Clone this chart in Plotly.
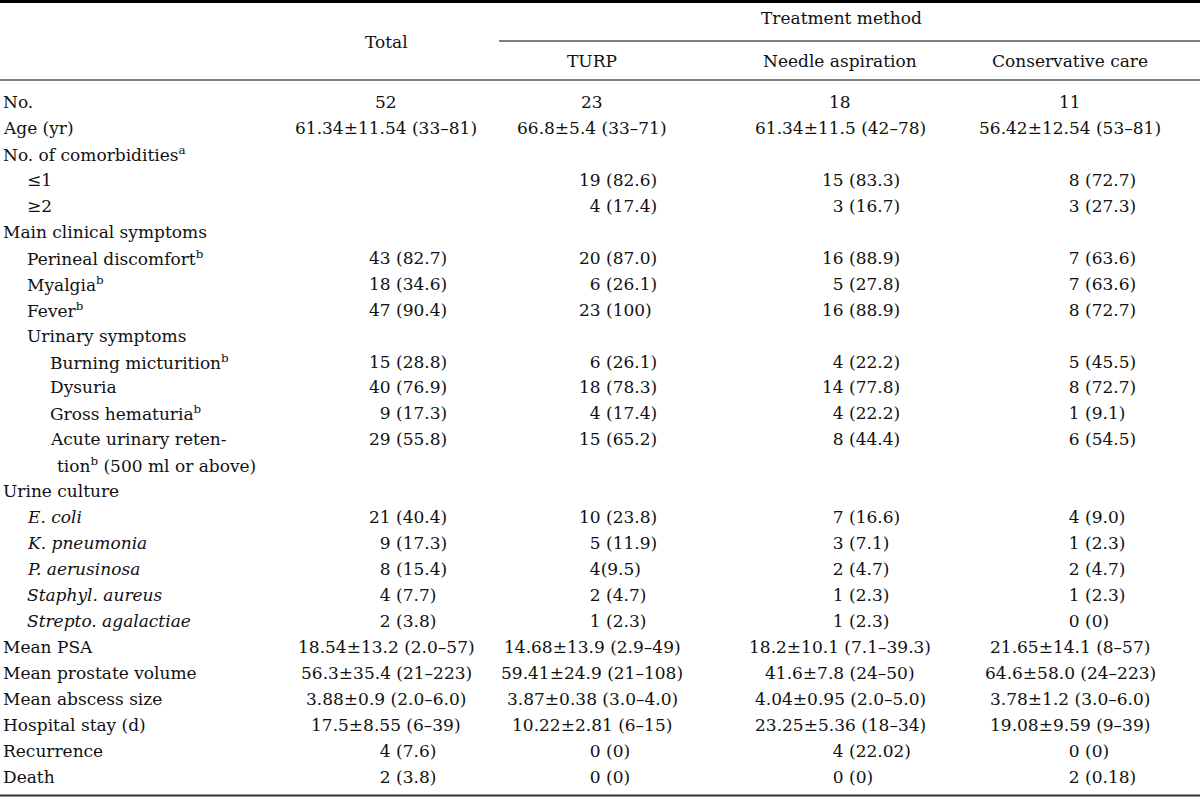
import re
import plotly.graph_objects as go

# ---------------- data ----------------
row_labels = [
    "No.", "Age (yr)", "No. of comorbidities<sup>a</sup>", "≤1", "≥2",
    "Main clinical symptoms", "Perineal discomfort<sup>b</sup>", "Myalgia<sup>b</sup>",
    "Fever<sup>b</sup>", "Urinary symptoms", "Burning micturition<sup>b</sup>", "Dysuria",
    "Gross hematuria<sup>b</sup>", "Acute urinary reten-", "tion<sup>b</sup> (500 ml or above)",
    "Urine culture", "<i>E. coli</i>", "<i>K. pneumonia</i>", "<i>P. aerusinosa</i>",
    "<i>Staphyl. aureus</i>", "<i>Strepto. agalactiae</i>", "Mean PSA",
    "Mean prostate volume", "Mean abscess size", "Hospital stay (d)", "Recurrence", "Death",
]
row_level = [0, 0, 0, 1, 1, 0, 1, 1, 1, 1, 2, 2, 2, 2, 3, 0, 1, 1, 1, 1, 1, 0, 0, 0, 0, 0, 0]

col_headers = ["Total", "TURP", "Needle aspiration", "Conservative care"]
group_header = "Treatment method"

total = ["52", "61.34±11.54 (33–81)", "", "", "", "", "43 (82.7)", "18 (34.6)", "47 (90.4)", "",
         "15 (28.8)", "40 (76.9)", "9 (17.3)", "29 (55.8)", "", "", "21 (40.4)", "9 (17.3)",
         "8 (15.4)", "4 (7.7)", "2 (3.8)", "18.54±13.2 (2.0–57)", "56.3±35.4 (21–223)",
         "3.88±0.9 (2.0–6.0)", "17.5±8.55 (6–39)", "4 (7.6)", "2 (3.8)"]
turp = ["23", "66.8±5.4 (33–71)", "", "19 (82.6)", "4 (17.4)", "", "20 (87.0)", "6 (26.1)",
        "23 (100)", "", "6 (26.1)", "18 (78.3)", "4 (17.4)", "15 (65.2)", "", "", "10 (23.8)",
        "5 (11.9)", "4(9.5)", "2 (4.7)", "1 (2.3)", "14.68±13.9 (2.9–49)", "59.41±24.9 (21–108)",
        "3.87±0.38 (3.0–4.0)", "10.22±2.81 (6–15)", "0 (0)", "0 (0)"]
needle = ["18", "61.34±11.5 (42–78)", "", "15 (83.3)", "3 (16.7)", "", "16 (88.9)", "5 (27.8)",
          "16 (88.9)", "", "4 (22.2)", "14 (77.8)", "4 (22.2)", "8 (44.4)", "", "", "7 (16.6)",
          "3 (7.1)", "2 (4.7)", "1 (2.3)", "1 (2.3)", "18.2±10.1 (7.1–39.3)", "41.6±7.8 (24–50)",
          "4.04±0.95 (2.0–5.0)", "23.25±5.36 (18–34)", "4 (22.02)", "0 (0)"]
conservative = ["11", "56.42±12.54 (53–81)", "", "8 (72.7)", "3 (27.3)", "", "7 (63.6)", "7 (63.6)",
                "8 (72.7)", "", "5 (45.5)", "8 (72.7)", "1 (9.1)", "6 (54.5)", "", "", "4 (9.0)",
                "1 (2.3)", "2 (4.7)", "1 (2.3)", "0 (0)", "21.65±14.1 (8–57)", "64.6±58.0 (24–223)",
                "3.78±1.2 (3.0–6.0)", "19.08±9.59 (9–39)", "0 (0)", "2 (0.18)"]
columns = [total, turp, needle, conservative]

# ---------------- layout / style ----------------
W, H = 1200, 797
FONT = "DejaVu Serif"
FS = 17
TXT = "#111111"

col_center = [386, 592, 840, 1070]      # header / centred-cell positions
col_left = [367, 577, 820, 1056]        # left edge of 2-digit count cells
indent = [1, 25, 48, 55]
row_y0, row_dy = 102, 25.95
hdr_group_y, hdr_total_y, hdr_sub_y = 18, 42, 61
group_x0 = 499

fig = go.Figure(go.Scatter(x=[], y=[], hoverinfo="skip", showlegend=False))
fig.update_layout(
    width=W, height=H, margin=dict(l=0, r=0, t=0, b=0),
    paper_bgcolor="white", plot_bgcolor="white",
    xaxis=dict(range=[0, W], visible=False, fixedrange=True),
    yaxis=dict(range=[H, 0], visible=False, fixedrange=True),
    showlegend=False,
)

ann = []
def add(x, y, text, anchor):
    ann.append(dict(x=x, y=y, xref="x", yref="y", text=text, showarrow=False,
                    xanchor=anchor, yanchor="middle",
                    font=dict(family=FONT, size=FS, color=TXT)))

# headers
add(col_center[0], hdr_total_y, col_headers[0], "center")
add((group_x0 + W) / 2 - 8, hdr_group_y, group_header, "center")
for c in range(1, 4):
    add(col_center[c], hdr_sub_y, col_headers[c], "center")

count_re = re.compile(r"^(\d+)\s?\(")
for i, lab in enumerate(row_labels):
    y = row_y0 + i * row_dy
    add(indent[row_level[i]], y, lab, "left")
    for c, col in enumerate(columns):
        v = col[i]
        if not v:
            continue
        m = count_re.match(v)
        if m:
            pad = "\u2007" * max(0, 2 - len(m.group(1)))
            add(col_left[c], y, pad + v, "left")
        else:
            add(col_center[c], y, v, "center")

fig.update_layout(annotations=ann)

shapes = [
    dict(type="line", x0=0, x1=W, y0=1.5, y1=1.5, line=dict(color="#000000", width=3)),
    dict(type="line", x0=group_x0, x1=W, y0=41, y1=41, line=dict(color="#555555", width=1.3)),
    dict(type="line", x0=0, x1=W, y0=80, y1=80, line=dict(color="#555555", width=1.5)),
    dict(type="line", x0=0, x1=W, y0=795.5, y1=795.5, line=dict(color="#333333", width=1.8)),
]
for s in shapes:
    s.update(xref="x", yref="y", layer="above")
fig.update_layout(shapes=shapes)

fig.write_html(
    "out.html",
    config={"displayModeBar": False},
    post_script="document.body.style.margin='0';document.body.style.overflow='hidden';",
)
